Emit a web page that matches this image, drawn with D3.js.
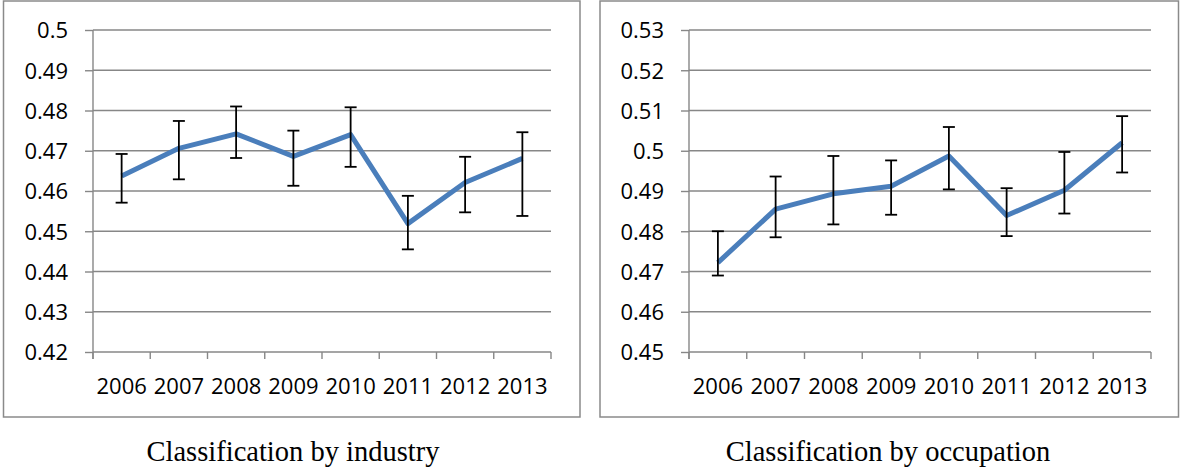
<!DOCTYPE html>
<html>
<head>
<meta charset="utf-8">
<script src="https://cdn.jsdelivr.net/npm/d3@7"></script>
<style>
  html, body { margin: 0; padding: 0; background: #fff; }
  svg { display: block; }
</style>
</head>
<body>
<svg id="chart" width="1180" height="471"></svg>
<script>
// ---- data ----
const years = ["2006", "2007", "2008", "2009", "2010", "2011", "2012", "2013"];

const industryValues = [0.4637, 0.4706, 0.4742, 0.4686, 0.4740, 0.4519, 0.4621, 0.4681];
const industryUpper  = [0.4692, 0.4774, 0.4810, 0.4750, 0.4808, 0.4588, 0.4685, 0.4746];
const industryLower  = [0.4571, 0.4629, 0.4682, 0.4613, 0.4660, 0.4455, 0.4547, 0.4538];
const industryTicks  = [0.42, 0.43, 0.44, 0.45, 0.46, 0.47, 0.48, 0.49, 0.5];

const occupationValues = [0.4722, 0.4855, 0.4893, 0.4912, 0.4987, 0.4839, 0.4902, 0.5020];
const occupationUpper  = [0.4800, 0.4936, 0.4987, 0.4976, 0.5059, 0.4907, 0.4997, 0.5086];
const occupationLower  = [0.4690, 0.4785, 0.4817, 0.4841, 0.4904, 0.4788, 0.4844, 0.4946];
const occupationTicks  = [0.45, 0.46, 0.47, 0.48, 0.49, 0.5, 0.51, 0.52, 0.53];

const captions = ["Classification by industry", "Classification by occupation"];

// ---- drawing ----
const svg = d3.select("#chart");
const gridColor = "#878787";
const lineColor = "#4A7EBB";

function panel(cfg) {
  const g = svg.append("g");
  // outer frame
  g.append("rect")
    .attr("x", cfg.box[0]).attr("y", cfg.box[1])
    .attr("width", cfg.box[2] - cfg.box[0]).attr("height", cfg.box[3] - cfg.box[1])
    .attr("fill", "#fff").attr("stroke", "#8a8a8a").attr("stroke-width", 1.5);

  const x = d3.scaleBand().domain(years).range([cfg.left, cfg.right]).padding(0);
  const y = d3.scaleLinear().domain([cfg.ticks[0], cfg.ticks[cfg.ticks.length - 1]]).range([cfg.bottom, cfg.top]);

  // horizontal gridlines
  g.append("g").selectAll("line").data(cfg.ticks.slice(1)).join("line")
    .attr("x1", cfg.left).attr("x2", cfg.right)
    .attr("y1", d => y(d)).attr("y2", d => y(d))
    .attr("stroke", gridColor).attr("stroke-width", 1.4);

  // y axis
  const yAxis = g.append("g").attr("transform", `translate(${cfg.left},0)`)
    .call(d3.axisLeft(y).tickValues(cfg.ticks).tickSize(8).tickPadding(17)
      .tickFormat(d => String(+d.toFixed(2))));
  yAxis.select(".domain").remove();
  yAxis.selectAll(".tick line").attr("stroke", gridColor).attr("stroke-width", 1.4);
  yAxis.selectAll("text").attr("dy", "0.36em")
    .style("font-family", "'Open Sans', sans-serif").style("font-size", "22px").attr("fill", "#000");
  g.append("line")
    .attr("x1", cfg.left).attr("x2", cfg.left).attr("y1", cfg.top).attr("y2", cfg.bottom + 7)
    .attr("stroke", gridColor).attr("stroke-width", 1.4);

  // x axis line + boundary ticks
  g.append("line")
    .attr("x1", cfg.left).attr("x2", cfg.right).attr("y1", cfg.bottom).attr("y2", cfg.bottom)
    .attr("stroke", gridColor).attr("stroke-width", 1.4);
  const bounds = years.map(d => x(d)).concat([x(years[years.length - 1]) + x.bandwidth()]);
  g.append("g").selectAll("line").data(bounds).join("line")
    .attr("x1", d => d).attr("x2", d => d)
    .attr("y1", cfg.bottom).attr("y2", cfg.bottom + 7)
    .attr("stroke", gridColor).attr("stroke-width", 1.4);

  // x labels
  const xAxis = g.append("g").attr("transform", `translate(0,${cfg.bottom})`)
    .call(d3.axisBottom(x).tickSize(0));
  xAxis.select(".domain").remove();
  xAxis.selectAll("text").attr("dy", null).attr("y", 42)
    .style("font-family", "'Open Sans', sans-serif").style("font-size", "22px").attr("fill", "#000");

  const cx = d => x(d) + x.bandwidth() / 2;

  // line
  g.append("path")
    .datum(years.map((d, i) => [cx(d), y(cfg.values[i])]))
    .attr("d", d3.line())
    .attr("fill", "none").attr("stroke", lineColor).attr("stroke-width", 5)
    .attr("stroke-linejoin", "round");

  // error bars
  const eb = g.append("g").attr("stroke", "#000").attr("stroke-width", 1.8);
  years.forEach((d, i) => {
    const xc = cx(d);
    eb.append("line").attr("x1", xc).attr("x2", xc)
      .attr("y1", y(cfg.upper[i])).attr("y2", y(cfg.lower[i]));
    eb.append("line").attr("x1", xc - 6).attr("x2", xc + 6)
      .attr("y1", y(cfg.upper[i])).attr("y2", y(cfg.upper[i]));
    eb.append("line").attr("x1", xc - 6).attr("x2", xc + 6)
      .attr("y1", y(cfg.lower[i])).attr("y2", y(cfg.lower[i]));
  });

  // caption
  svg.append("text")
    .attr("x", cfg.captionX).attr("y", 461)
    .attr("text-anchor", "middle")
    .style("font-family", "'Liberation Serif', 'Times New Roman', serif")
    .style("font-size", "28.5px").attr("fill", "#000")
    .text(cfg.caption);
}

panel({
  box: [3.5, 1, 580, 417], left: 93, right: 551, top: 30, bottom: 352,
  ticks: industryTicks, values: industryValues, upper: industryUpper, lower: industryLower,
  caption: captions[0], captionX: 293
});
panel({
  box: [600, 1, 1178.5, 417], left: 689, right: 1151, top: 30, bottom: 352,
  ticks: occupationTicks, values: occupationValues, upper: occupationUpper, lower: occupationLower,
  caption: captions[1], captionX: 888
});
</script>
</body>
</html>
